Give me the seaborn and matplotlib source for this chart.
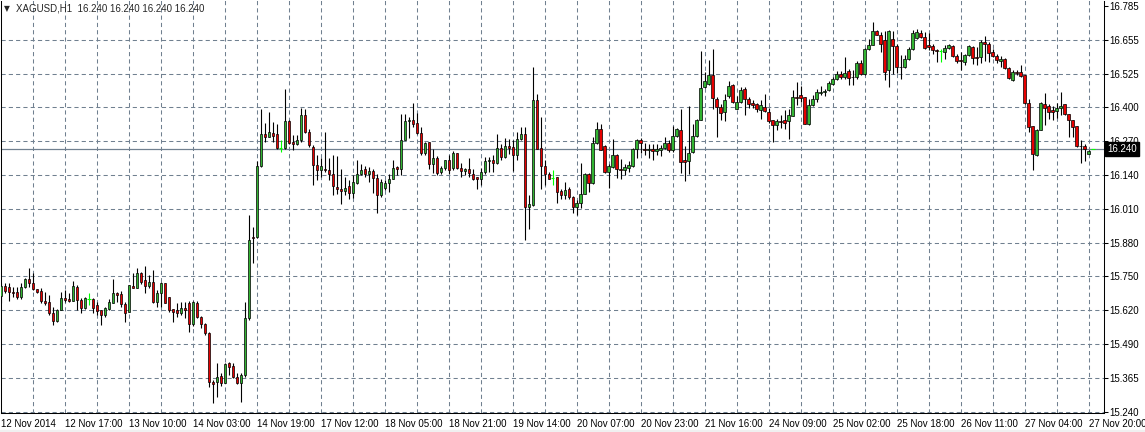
import numpy as np
import matplotlib
matplotlib.use("Agg")
import matplotlib.pyplot as plt
import matplotlib.transforms as mtransforms
from matplotlib.patches import Rectangle
import seaborn as sns

# XAGUSD H1 bars, 12 Nov 2014 .. 27 Nov 2014 20:00
opens = [
    15.680, 15.718, 15.716, 15.697, 15.695, 15.675, 15.713, 15.743, 15.728, 15.705,
    15.699, 15.662, 15.658, 15.617, 15.586, 15.627, 15.671, 15.667, 15.662, 15.716,
    15.665, 15.633, 15.667, 15.667, 15.645, 15.627, 15.608, 15.630, 15.652, 15.690,
    15.687, 15.650, 15.620, 15.718, 15.709, 15.769, 15.740, 15.718, 15.735, 15.658,
    15.690, 15.728, 15.675, 15.629, 15.627, 15.617, 15.633, 15.652, 15.574, 15.652,
    15.600, 15.575, 15.540, 15.354, 15.354, 15.376, 15.350, 15.424, 15.414, 15.373,
    15.350, 15.380, 15.595, 15.906, 15.906, 16.174, 16.296, 16.286, 16.302, 16.296,
    16.245, 16.245, 16.347, 16.267, 16.258, 16.273, 16.368, 16.305, 16.248, 16.181,
    16.162, 16.165, 16.159, 16.146, 16.096, 16.086, 16.079, 16.098, 16.073, 16.111,
    16.143, 16.165, 16.146, 16.156, 16.131, 16.064, 16.092, 16.111, 16.127, 16.171,
    16.165, 16.276, 16.346, 16.352, 16.341, 16.301, 16.225, 16.267, 16.182, 16.205,
    16.153, 16.169, 16.197, 16.169, 16.225, 16.169, 16.155, 16.165, 16.146, 16.134,
    16.124, 16.151, 16.193, 16.197, 16.187, 16.245, 16.210, 16.250, 16.248, 16.219,
    16.280, 16.296, 16.020, 16.026, 16.425, 16.245, 16.174, 16.144, 16.131, 16.134,
    16.080, 16.064, 16.086, 16.058, 16.020, 16.035, 16.070, 16.143, 16.111, 16.264,
    16.318, 16.250, 16.153, 16.172, 16.216, 16.165, 16.162, 16.169, 16.175, 16.242,
    16.276, 16.242, 16.238, 16.241, 16.231, 16.238, 16.245, 16.263, 16.235, 16.291,
    16.314, 16.197, 16.194, 16.229, 16.291, 16.352, 16.476, 16.489, 16.524, 16.432,
    16.402, 16.381, 16.441, 16.485, 16.394, 16.419, 16.467, 16.432, 16.417, 16.412,
    16.388, 16.399, 16.381, 16.350, 16.331, 16.346, 16.350, 16.346, 16.366, 16.438,
    16.445, 16.438, 16.337, 16.407, 16.432, 16.455, 16.458, 16.464, 16.489, 16.505,
    16.527, 16.514, 16.536, 16.514, 16.514, 16.569, 16.527, 16.620, 16.637, 16.688,
    16.675, 16.654, 16.540, 16.658, 16.632, 16.552, 16.552, 16.584, 16.622, 16.663,
    16.683, 16.668, 16.635, 16.631, 16.616, 16.613, 16.609, 16.626, 16.631, 16.593,
    16.578, 16.571, 16.597, 16.628, 16.590, 16.590, 16.646, 16.641, 16.609, 16.593,
    16.575, 16.584, 16.550, 16.504, 16.533, 16.533, 16.521, 16.415, 16.327, 16.216,
    16.314, 16.410, 16.403, 16.387, 16.385, 16.398, 16.410, 16.372, 16.349, 16.327,
    16.252, 16.251, 16.223,
]
highs = [
    15.731, 15.728, 15.728, 15.715, 15.716, 15.728, 15.747, 15.785, 15.766, 15.706,
    15.709, 15.697, 15.684, 15.640, 15.630, 15.697, 15.703, 15.690, 15.738, 15.722,
    15.671, 15.675, 15.690, 15.671, 15.658, 15.627, 15.640, 15.667, 15.743, 15.697,
    15.700, 15.658, 15.722, 15.766, 15.785, 15.773, 15.794, 15.760, 15.779, 15.703,
    15.735, 15.731, 15.677, 15.630, 15.655, 15.658, 15.658, 15.660, 15.660, 15.660,
    15.602, 15.578, 15.544, 15.360, 15.426, 15.385, 15.424, 15.430, 15.424, 15.386,
    15.386, 15.658, 15.988, 15.944, 16.195, 16.394, 16.339, 16.381, 16.343, 16.337,
    16.273, 16.470, 16.350, 16.292, 16.292, 16.398, 16.394, 16.318, 16.254, 16.216,
    16.204, 16.305, 16.204, 16.216, 16.212, 16.165, 16.134, 16.121, 16.140, 16.197,
    16.184, 16.174, 16.172, 16.165, 16.146, 16.127, 16.121, 16.146, 16.200, 16.174,
    16.372, 16.375, 16.362, 16.415, 16.377, 16.324, 16.267, 16.267, 16.242, 16.212,
    16.174, 16.200, 16.216, 16.233, 16.225, 16.187, 16.169, 16.204, 16.165, 16.134,
    16.169, 16.210, 16.210, 16.216, 16.296, 16.258, 16.283, 16.278, 16.276, 16.305,
    16.324, 16.324, 16.064, 16.552, 16.451, 16.362, 16.197, 16.153, 16.159, 16.134,
    16.089, 16.115, 16.096, 16.062, 16.045, 16.185, 16.149, 16.149, 16.286, 16.343,
    16.337, 16.254, 16.184, 16.277, 16.223, 16.202, 16.182, 16.195, 16.245, 16.280,
    16.283, 16.263, 16.261, 16.258, 16.261, 16.254, 16.286, 16.273, 16.327, 16.322,
    16.394, 16.250, 16.403, 16.337, 16.356, 16.613, 16.533, 16.580, 16.622, 16.438,
    16.410, 16.451, 16.499, 16.489, 16.441, 16.476, 16.476, 16.438, 16.426, 16.417,
    16.426, 16.451, 16.396, 16.350, 16.356, 16.371, 16.387, 16.391, 16.464, 16.495,
    16.480, 16.438, 16.432, 16.447, 16.467, 16.480, 16.467, 16.498, 16.514, 16.536,
    16.536, 16.590, 16.546, 16.540, 16.574, 16.578, 16.625, 16.658, 16.724, 16.692,
    16.686, 16.688, 16.692, 16.688, 16.640, 16.597, 16.599, 16.628, 16.692, 16.696,
    16.692, 16.686, 16.682, 16.641, 16.622, 16.622, 16.638, 16.641, 16.638, 16.603,
    16.609, 16.603, 16.638, 16.633, 16.628, 16.656, 16.669, 16.648, 16.622, 16.603,
    16.593, 16.588, 16.552, 16.540, 16.540, 16.562, 16.524, 16.432, 16.327, 16.318,
    16.419, 16.453, 16.410, 16.403, 16.415, 16.457, 16.413, 16.375, 16.349, 16.327,
    16.273, 16.258, 16.235,
]
lows = [
    15.652, 15.690, 15.662, 15.677, 15.667, 15.668, 15.710, 15.715, 15.703, 15.690,
    15.652, 15.646, 15.608, 15.570, 15.582, 15.627, 15.658, 15.658, 15.662, 15.627,
    15.614, 15.629, 15.646, 15.614, 15.607, 15.570, 15.601, 15.627, 15.652, 15.658,
    15.639, 15.582, 15.620, 15.709, 15.709, 15.726, 15.690, 15.709, 15.652, 15.640,
    15.640, 15.652, 15.620, 15.582, 15.601, 15.608, 15.595, 15.544, 15.566, 15.595,
    15.560, 15.533, 15.335, 15.274, 15.297, 15.338, 15.348, 15.379, 15.367, 15.345,
    15.278, 15.373, 15.590, 15.807, 15.900, 16.172, 16.267, 16.284, 16.267, 16.242,
    16.229, 16.242, 16.260, 16.235, 16.254, 16.267, 16.300, 16.248, 16.102, 16.121,
    16.134, 16.153, 16.121, 16.064, 16.070, 16.032, 16.064, 16.051, 16.055, 16.108,
    16.140, 16.134, 16.115, 16.073, 15.997, 16.058, 16.083, 16.077, 16.124, 16.140,
    16.140, 16.273, 16.283, 16.324, 16.298, 16.216, 16.216, 16.165, 16.147, 16.140,
    16.146, 16.159, 16.146, 16.159, 16.165, 16.134, 16.140, 16.134, 16.121, 16.089,
    16.102, 16.146, 16.153, 16.153, 16.184, 16.197, 16.206, 16.220, 16.157, 16.197,
    16.273, 15.893, 15.937, 16.022, 16.240, 16.089, 16.102, 16.124, 16.102, 16.035,
    16.048, 16.048, 16.048, 15.995, 15.990, 16.015, 16.068, 16.077, 16.108, 16.260,
    16.235, 16.149, 16.093, 16.169, 16.131, 16.124, 16.140, 16.153, 16.172, 16.207,
    16.225, 16.216, 16.204, 16.200, 16.216, 16.213, 16.242, 16.229, 16.229, 16.286,
    16.149, 16.118, 16.146, 16.225, 16.286, 16.349, 16.474, 16.483, 16.394, 16.286,
    16.349, 16.347, 16.435, 16.416, 16.391, 16.415, 16.371, 16.396, 16.396, 16.381,
    16.353, 16.381, 16.341, 16.267, 16.312, 16.320, 16.315, 16.277, 16.366, 16.407,
    16.419, 16.337, 16.333, 16.404, 16.419, 16.445, 16.442, 16.460, 16.483, 16.502,
    16.505, 16.508, 16.483, 16.483, 16.508, 16.523, 16.523, 16.616, 16.635, 16.673,
    16.609, 16.502, 16.476, 16.527, 16.530, 16.508, 16.549, 16.581, 16.619, 16.658,
    16.663, 16.622, 16.616, 16.603, 16.571, 16.571, 16.584, 16.622, 16.590, 16.567,
    16.540, 16.559, 16.593, 16.565, 16.562, 16.567, 16.575, 16.571, 16.590, 16.567,
    16.552, 16.546, 16.508, 16.499, 16.521, 16.514, 16.413, 16.305, 16.159, 16.212,
    16.311, 16.330, 16.356, 16.352, 16.360, 16.368, 16.368, 16.286, 16.286, 16.248,
    16.185, 16.195, 16.220,
]
closes = [
    15.718, 15.700, 15.697, 15.690, 15.675, 15.713, 15.743, 15.728, 15.705, 15.697,
    15.660, 15.655, 15.614, 15.586, 15.627, 15.671, 15.665, 15.662, 15.718, 15.665,
    15.633, 15.671, 15.667, 15.633, 15.624, 15.608, 15.633, 15.658, 15.690, 15.684,
    15.650, 15.617, 15.722, 15.709, 15.766, 15.735, 15.718, 15.735, 15.658, 15.693,
    15.728, 15.655, 15.627, 15.620, 15.617, 15.633, 15.627, 15.574, 15.656, 15.600,
    15.572, 15.538, 15.354, 15.345, 15.373, 15.350, 15.420, 15.411, 15.373, 15.350,
    15.380, 15.595, 15.895, 15.900, 16.174, 16.296, 16.286, 16.305, 16.290, 16.245,
    16.245, 16.347, 16.263, 16.258, 16.273, 16.368, 16.305, 16.254, 16.181, 16.162,
    16.174, 16.159, 16.144, 16.098, 16.086, 16.079, 16.093, 16.073, 16.115, 16.143,
    16.162, 16.146, 16.157, 16.131, 16.064, 16.115, 16.111, 16.127, 16.169, 16.165,
    16.276, 16.346, 16.352, 16.334, 16.301, 16.225, 16.263, 16.182, 16.205, 16.149,
    16.169, 16.197, 16.162, 16.225, 16.169, 16.157, 16.165, 16.149, 16.127, 16.124,
    16.151, 16.193, 16.197, 16.187, 16.245, 16.210, 16.250, 16.245, 16.219, 16.280,
    16.296, 16.020, 16.032, 16.425, 16.242, 16.174, 16.144, 16.127, 16.131, 16.077,
    16.064, 16.083, 16.058, 16.020, 16.035, 16.070, 16.146, 16.111, 16.264, 16.318,
    16.238, 16.153, 16.174, 16.216, 16.165, 16.162, 16.172, 16.178, 16.242, 16.276,
    16.263, 16.238, 16.240, 16.231, 16.240, 16.245, 16.263, 16.235, 16.291, 16.318,
    16.191, 16.191, 16.226, 16.291, 16.352, 16.474, 16.498, 16.524, 16.435, 16.402,
    16.377, 16.428, 16.479, 16.419, 16.419, 16.464, 16.429, 16.413, 16.407, 16.391,
    16.409, 16.386, 16.346, 16.331, 16.346, 16.344, 16.341, 16.369, 16.438, 16.435,
    16.434, 16.337, 16.409, 16.432, 16.457, 16.458, 16.461, 16.493, 16.505, 16.526,
    16.514, 16.531, 16.510, 16.516, 16.569, 16.527, 16.620, 16.637, 16.688, 16.675,
    16.641, 16.533, 16.688, 16.632, 16.552, 16.553, 16.584, 16.622, 16.683, 16.685,
    16.666, 16.625, 16.630, 16.616, 16.613, 16.613, 16.626, 16.635, 16.593, 16.575,
    16.576, 16.597, 16.631, 16.588, 16.588, 16.646, 16.641, 16.606, 16.593, 16.580,
    16.584, 16.550, 16.512, 16.533, 16.530, 16.519, 16.415, 16.324, 16.223, 16.314,
    16.415, 16.398, 16.381, 16.381, 16.398, 16.403, 16.372, 16.349, 16.324, 16.251,
    16.250, 16.242, 16.233,
]

time_labels = ["12 Nov 2014", "12 Nov 17:00", "13 Nov 10:00", "14 Nov 03:00",
               "14 Nov 19:00", "17 Nov 12:00", "18 Nov 05:00", "18 Nov 21:00",
               "19 Nov 14:00", "20 Nov 07:00", "20 Nov 23:00", "21 Nov 16:00",
               "24 Nov 09:00", "25 Nov 02:00", "25 Nov 18:00", "26 Nov 11:00",
               "27 Nov 04:00", "27 Nov 20:00"]
price_labels = ["15.240", "15.365", "15.490", "15.620", "15.750", "15.880", "16.010",
                "16.140", "16.270", "16.400", "16.525", "16.655", "16.785"]
symbol = "XAGUSD,H1"
header_ohlc = [16.240, 16.240, 16.240, 16.240]
last_price = 16.240

GREEN = "#32b432"
RED = "#e60000"
DOJI = "#00ff00"
GRID = "#708090"

sns.set_style("white")
plt.rcParams["font.family"] = ["Liberation Sans", "DejaVu Sans"]
plt.rcParams["font.size"] = 7

W, H = 1145, 432
fig = plt.figure(figsize=(W / 100, H / 100), dpi=100)
fig.patches.append(Rectangle((0, 0), 1, 2.5 / H, transform=fig.transFigure,
                             color="#f0f0f0", zorder=0))
ax = fig.add_axes([0.5 / W, 19 / H, 1103 / W, 412.5 / H])

o = np.array(opens)
h = np.array(highs)
l = np.array(lows)
c = np.array(closes)
n = len(c)
idx = np.arange(n)
up = c > o
dn = c < o
dj = c == o

# price scale: 12 equal steps between the outer labels
lo, hi = float(price_labels[0]), float(price_labels[-1])
yt = np.linspace(lo, hi, len(price_labels))
step = yt[1] - yt[0]
ax.set_ylim(lo - step * 1.5 / 33.8, hi + step * 5.5 / 33.8)
ax.set_xlim(-0.125, n + 2.75)

# grid
for y in yt[:-1]:
    ax.axhline(y, color=GRID, lw=0.75, ls=(0, (4, 3)), zorder=0.5)
for x in np.arange(8, n, 8):
    ax.axvline(x, color=GRID, lw=0.75, ls=(0, (4, 3)), zorder=0.5)
ax.axhline(last_price, color=GRID, lw=0.9, zorder=1)

# candles
ax.vlines(idx[~dj], l[~dj], h[~dj], color="black", lw=0.8, zorder=2)
ax.vlines(idx[dj], l[dj], h[dj], color=DOJI, lw=0.8, zorder=2)
ax.hlines(c[dj], idx[dj] - 0.4, idx[dj] + 0.4, color=DOJI, lw=0.8, zorder=2)
ax.bar(idx[up], (c - o)[up], bottom=o[up], width=0.62, color=GREEN,
       edgecolor="black", linewidth=0.5, zorder=3)
ax.bar(idx[dn], (o - c)[dn], bottom=c[dn], width=0.62, color=RED,
       edgecolor="black", linewidth=0.5, zorder=3)
ax.hlines(last_price, n - 0.3, n + 0.5, color=DOJI, lw=0.8, zorder=3)

# axes
for s in ["left", "right", "bottom"]:
    ax.spines[s].set_color("black")
    ax.spines[s].set_linewidth(0.75)
ax.spines["top"].set_visible(False)
ax.yaxis.tick_right()
ax.set_yticks(yt)
ax.set_yticklabels(price_labels)
ax.set_xticks(np.arange(0, n, 16))
ax.set_xticklabels(time_labels)
for t in ax.get_xticklabels():
    t.set_horizontalalignment("left")
ax.tick_params(axis="both", direction="out", length=3, width=0.75,
               pad=1.5, labelsize=7, colors="black")

tr = mtransforms.blended_transform_factory(ax.transAxes, ax.transData)
ax.text(1.0 + 3.5 / 1103, last_price, f"{last_price:.3f}", transform=tr,
        color="white", ha="left", va="center", fontsize=7, clip_on=False,
        bbox=dict(boxstyle="square,pad=0.2", fc="black", ec="black"), zorder=10)

fig.text(4 / W, 1 - 8.5 / H, "\u25bc", fontsize=5.5, va="center", ha="left",
         family="DejaVu Sans")
fig.text(16 / W, 1 - 8.5 / H,
         symbol + "  " + " ".join(f"{v:.3f}" for v in header_ohlc),
         fontsize=7, va="center", ha="left")

fig.savefig("out.png", dpi=100)
